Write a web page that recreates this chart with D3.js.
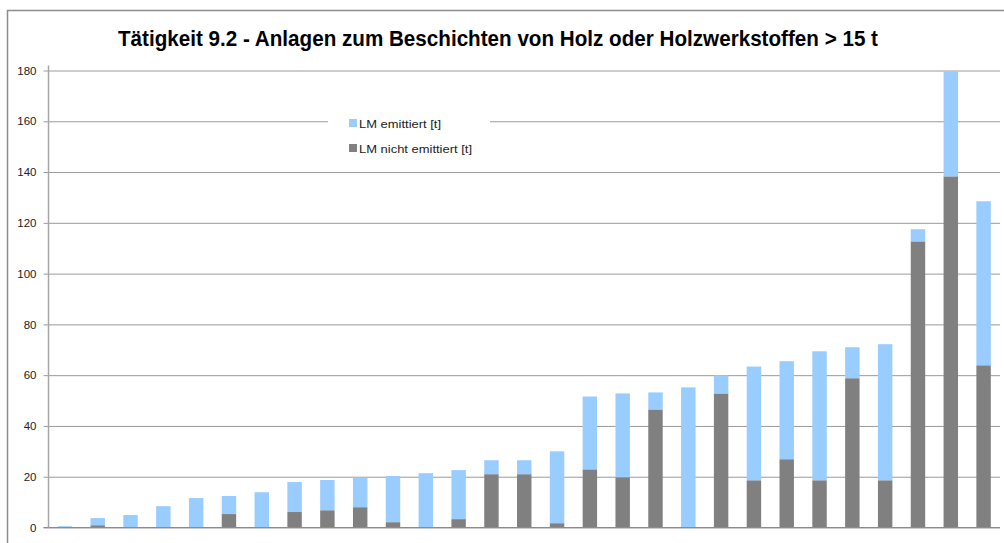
<!DOCTYPE html>
<html>
<head>
<meta charset="utf-8">
<script src="https://cdn.jsdelivr.net/npm/d3@7"></script>
<style>
  body { margin: 0; background: #fff; }
  svg { display: block; }
  .tick text { font-family: "Liberation Sans", Arial, sans-serif; }
</style>
</head>
<body>
<svg class="chart"></svg>
<script>
//chart variables
var width = 1004;
var height = 543;
var margin = {top: 70.5, right: 4, bottom: 15.5, left: 48.5};
var w = width - margin.left - margin.right;
var h = height - margin.top - margin.bottom;

//data (one entry per installation, no category labels)
var anlagen = d3.range(1, 30).map(String);
var nichtEmittiert = [0, 0.9, 0, 0, 0, 5.3, 0, 6.1, 6.8, 8.0, 2.1, 0, 3.3, 21.0, 21.0, 1.7,
                      22.9, 19.8, 46.5, 0, 52.8, 18.6, 26.9, 18.6, 58.8, 18.6, 112.7, 138.3, 63.9];
var emittiert = [0.5, 2.8, 4.9, 8.4, 11.6, 7.1, 13.9, 11.8, 11.9, 11.6, 18.2, 21.4, 19.3, 5.5, 5.5, 28.3,
                 28.7, 33.0, 6.7, 55.2, 7.1, 44.8, 38.6, 50.8, 12.2, 53.6, 4.8, 41.4, 64.6];
var yTicks = [0, 20, 40, 60, 80, 100, 120, 140, 160, 180];
var seriesNames = ["LM emittiert [t]", "LM nicht emittiert [t]"];
var seriesKeys = ["emittiert", "nicht"];
var col = {emittiert: "#99ccff", nicht: "#808080"};

var title = "Tätigkeit 9.2 - Anlagen zum Beschichten von Holz oder Holzwerkstoffen > 15 t";

//build rows for the stack
var rows = anlagen.map(function(a, i) {
  return {anlage: a, nicht: nichtEmittiert[i], emittiert: emittiert[i]};
});

var svg = d3.select(".chart")
    .attr("width", width)
    .attr("height", height);

//outer frame of the chart area
svg.append("rect")
    .attr("x", 7.5)
    .attr("y", 10.5)
    .attr("width", 1010)
    .attr("height", 560)
    .style("fill", "#fff")
    .style("stroke", "#8c8c8c")
    .style("stroke-width", 1.5);

svg.append("text")
    .attr("x", 498)
    .attr("y", 46)
    .attr("text-anchor", "middle")
    .attr("textLength", 760)
    .attr("lengthAdjust", "spacingAndGlyphs")
    .style("font-family", "'Liberation Sans', Arial, sans-serif")
    .style("font-weight", "bold")
    .style("font-size", "22px")
    .style("fill", "#000")
    .text(title);

var chart = svg.append("g")
    .attr("transform", "translate(" + margin.left + "," + margin.top + ")");

var x = d3.scaleBand()
    .domain(anlagen)
    .range([0, w])
    .paddingInner(0.56)
    .paddingOuter(0.28);

var y = d3.scaleLinear()
    .domain([0, 180])
    .range([h, 0]);

//gridlines + left ticks
var yAxis = d3.axisLeft()
    .scale(y)
    .tickValues(yTicks)
    .tickSize(-w)
    .tickPadding(12)
    .tickFormat(d3.format("d"));

var gy = chart.append("g")
    .attr("class", "axis")
    .call(yAxis);

gy.select(".domain").remove();
gy.selectAll(".tick line")
    .attr("x1", -5)
    .style("stroke", "#9a9a9a")
    .style("stroke-width", 1);
gy.selectAll(".tick text")
    .style("font-size", "11.5px")
    .style("fill", "#222");

//legend box sits over the 160 gridline
var legend = chart.append("g")
    .attr("transform", "translate(" + (328 - margin.left) + "," + (108 - margin.top) + ")");

legend.append("rect")
    .attr("width", 162)
    .attr("height", 56)
    .style("fill", "#fff");

seriesKeys.forEach(function(k, i) {
  legend.append("rect")
      .attr("x", 21)
      .attr("y", 11 + i * 25)
      .attr("width", 8)
      .attr("height", 8)
      .style("fill", col[k]);
  legend.append("text")
      .attr("x", 31)
      .attr("y", 19.5 + i * 25)
      .attr("textLength", i == 0 ? 82 : 113)
      .attr("lengthAdjust", "spacingAndGlyphs")
      .style("font-family", "'Liberation Sans', Arial, sans-serif")
      .style("font-size", "11px")
      .style("fill", "#222")
      .text(seriesNames[i]);
});

//stacked bars: not emitted at the bottom, emitted on top
var stack = d3.stack().keys(["nicht", "emittiert"]);
var layers = stack(rows);

chart.selectAll(".layer")
    .data(layers)
    .enter().append("g")
    .attr("class", "layer")
    .style("fill", function(d) { return col[d.key]; })
  .selectAll("rect")
    .data(function(d) { return d; })
    .enter().append("rect")
    .attr("x", function(d) { return x(d.data.anlage); })
    .attr("y", function(d) { return y(d[1]); })
    .attr("height", function(d) { return y(d[0]) - y(d[1]); })
    .attr("width", x.bandwidth());

//baseline and value axis line
chart.append("line")
    .attr("x1", -5)
    .attr("x2", w)
    .attr("y1", y(0))
    .attr("y2", y(0))
    .style("stroke", "#8c8c8c")
    .style("stroke-width", 1.2);

chart.append("line")
    .attr("x1", 0)
    .attr("x2", 0)
    .attr("y1", -5)
    .attr("y2", h)
    .style("stroke", "#a6a6a6")
    .style("stroke-width", 1.5);
</script>
</body>
</html>
